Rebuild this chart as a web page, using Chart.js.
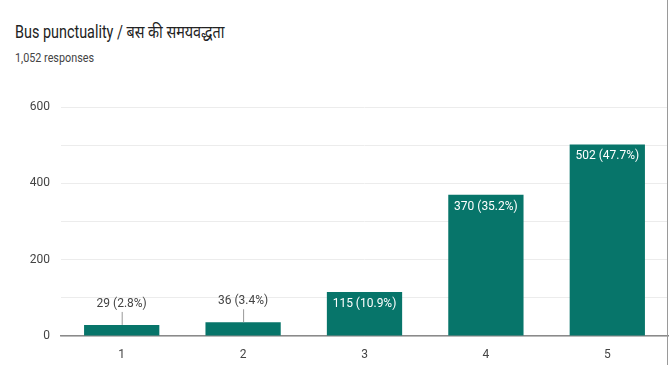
<!DOCTYPE html>
<html>
<head>
<meta charset="utf-8">
<script src="https://cdn.jsdelivr.net/npm/chart.js@4"></script>
<style>
  body { margin: 0; background: #fff; }
  #wrap { position: relative; width: 672px; height: 365px; overflow: hidden; }
  #title { position: absolute; left: 15px; top: 19px; font: 18px Roboto, "Noto Sans", sans-serif; color: #222; transform: scaleX(0.8); transform-origin: left top; white-space: nowrap; }
  #sub { position: absolute; left: 15px; top: 51px; font: 12px Roboto, sans-serif; color: #444; transform: scaleX(0.9); transform-origin: left top; white-space: nowrap; }
  #edge { position: absolute; left: 667px; top: 0; width: 1px; height: 365px; background: #9a9a9a; }
  canvas { position: absolute; left: 0; top: 0; }
</style>
</head>
<body>
<div id="wrap">
  <div id="title">Bus punctuality / बस की समयवद्धता</div>
  <div id="sub">1,052 responses</div>
  <canvas id="myChart" width="672" height="365"></canvas>
  <div id="edge"></div>
</div>
<script>
    const categories = ['1', '2', '3', '4', '5'];
    const counts = [29, 36, 115, 370, 502];
    const percents = ['2.8%', '3.4%', '10.9%', '35.2%', '47.7%'];
    const yTicks = [0, 200, 400, 600];

    const barColor = '#07756a';

    // labels: inside the bar if it is tall enough, otherwise above with a small leader line
    const barLabels = {
        id: 'barLabels',
        afterDatasetsDraw(chart) {
            const ctx = chart.ctx;
            const meta = chart.getDatasetMeta(0);
            ctx.save();
            ctx.font = '12px Roboto, sans-serif';
            ctx.textAlign = 'center';
            ctx.textBaseline = 'middle';
            meta.data.forEach((bar, i) => {
                const text = counts[i] + ' (' + percents[i] + ')';
                const h = bar.base - bar.y;
                if (h > 30) {
                    ctx.fillStyle = '#ffffff';
                    ctx.fillText(text, bar.x, bar.y + 12);
                } else {
                    const ly = bar.y - 21;
                    ctx.strokeStyle = '#999';
                    ctx.lineWidth = 1;
                    ctx.beginPath();
                    ctx.moveTo(bar.x + 0.5, ly + 8);
                    ctx.lineTo(bar.x + 0.5, bar.y);
                    ctx.stroke();
                    ctx.fillStyle = '#444';
                    ctx.fillText(text, bar.x, ly);
                }
            });
            ctx.restore();
        }
    };

    const ctx = document.getElementById('myChart').getContext('2d');
    const chart = new Chart(ctx, {
        type: 'bar',
        data: {
            labels: categories,
            datasets: [{
                data: counts,
                backgroundColor: barColor,
                borderWidth: 0,
                categoryPercentage: 0.62,
                barPercentage: 1.0
            }]
        },
        options: {
            responsive: false,
            animation: false,
            layout: { padding: { top: 107, right: 4, left: 0, bottom: 0 } },
            plugins: {
                legend: { display: false },
                tooltip: { enabled: false }
            },
            scales: {
                x: {
                    grid: { display: false, drawTicks: false },
                    border: { color: '#8a8a8a', width: 1.5 },
                    ticks: { color: '#444', font: { family: 'Roboto', size: 12 }, padding: 12 },
                    afterFit(scale) { scale.height = 29; }
                },
                y: {
                    min: 0,
                    max: 600,
                    grid: { color: '#ececec', drawTicks: false },
                    border: { display: false },
                    ticks: {
                        stepSize: 100,
                        color: '#444',
                        padding: 11,
                        font: { family: 'Roboto', size: 12 },
                        callback: v => yTicks.includes(v) ? v : ''
                    },
                    afterFit(scale) { scale.width = 61; }
                }
            }
        },
        plugins: [barLabels]
    });
</script>
</body>
</html>
